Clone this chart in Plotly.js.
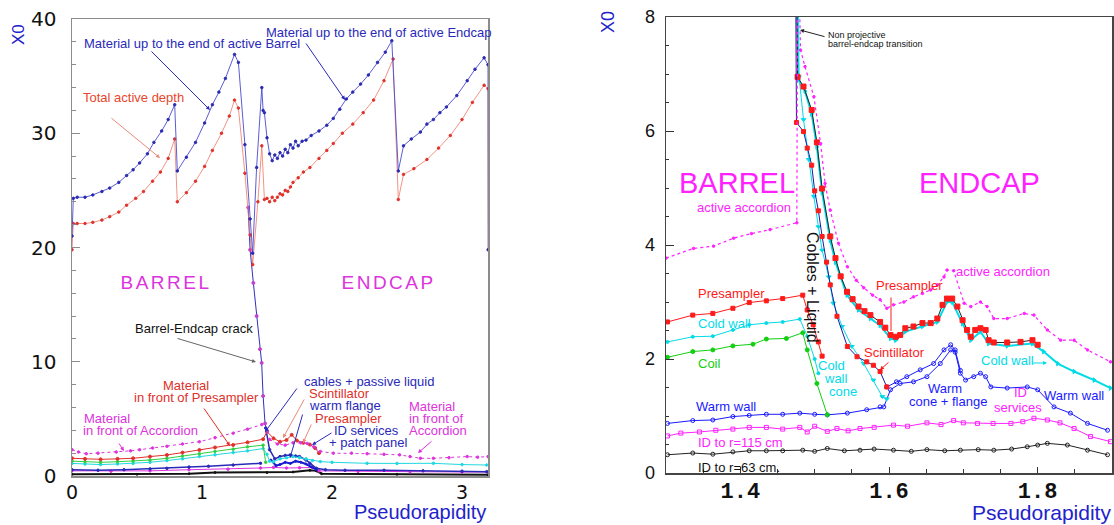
<!DOCTYPE html>
<html><head><meta charset="utf-8">
<script src="https://cdn.plot.ly/plotly-3.0.1.min.js"></script>
<style>body{margin:0;background:#fff}#chart{width:1114px;height:525px}</style>
</head><body><div id="chart"></div>
<script>
// ---------------- LEFT PANEL DATA (eta, X0) ----------------
const etaEndActive = [0,0.01,0.04,0.10,0.16,0.23,0.29,0.36,0.42,0.47,0.52,0.58,0.63,0.69,0.74,0.79,0.81,0.88,0.95,1.02,1.08,1.13,1.18,1.25,1.28,1.33,1.37,1.39,1.42,1.46,1.47,1.48,1.50,1.52,1.54,1.56,1.58,1.60,1.62,1.64,1.66,1.68,1.70,1.72,1.74,1.77,1.80,1.84,1.90,1.96,2.01,2.06,2.11,2.16,2.22,2.28,2.35,2.41,2.46,2.51,2.55,2.61,2.68,2.73,2.78,2.83,2.88,2.96,3.04,3.10,3.17,3.20,3.202];
const x0EndActive = [21.0,24.3,24.4,24.4,24.6,24.9,25.2,25.7,26.3,26.8,27.4,28.2,29.2,30.2,31.2,32.5,26.7,27.9,29.2,30.9,32.5,33.6,34.8,36.9,36.2,29.0,22.5,19.5,27.0,34.0,32.0,31.8,29.6,28.2,27.6,28.1,27.8,28.3,28.0,28.6,28.3,29.0,28.7,29.3,28.9,29.3,29.4,29.8,30.2,30.7,31.3,32.1,33.0,33.6,34.3,35.1,36.2,37.1,38.1,26.7,28.9,29.5,30.1,30.8,31.2,31.8,32.3,33.3,34.6,35.6,36.6,36.0,19.8];

const etaActiveDepth = [0,0.01,0.04,0.10,0.16,0.23,0.29,0.36,0.42,0.49,0.55,0.62,0.68,0.74,0.79,0.81,0.88,0.95,1.02,1.08,1.15,1.21,1.25,1.28,1.33,1.37,1.39,1.43,1.46,1.48,1.50,1.52,1.54,1.56,1.58,1.60,1.62,1.64,1.66,1.68,1.70,1.74,1.78,1.83,1.90,1.96,2.01,2.08,2.16,2.24,2.32,2.40,2.47,2.51,2.55,2.63,2.73,2.82,2.91,3.00,3.08,3.17,3.20,3.202];
const x0ActiveDepth = [19.8,22.1,22.1,22.1,22.2,22.4,22.7,23.1,23.7,24.3,24.9,25.8,26.6,27.8,29.5,24.0,24.8,25.8,27.1,28.5,30.0,31.5,32.9,32.2,26.5,21.1,18.5,24.0,28.9,24.2,24.3,24.0,24.4,24.1,24.4,24.7,24.6,25.0,24.9,25.3,25.7,26.1,26.6,27.0,27.8,28.5,29.1,30.0,30.8,31.8,32.9,34.6,36.5,24.2,26.4,26.9,27.7,28.7,29.8,31.2,32.7,34.2,33.9,19.8];

const etaCrack = [1.355,1.37,1.395,1.42,1.446,1.459,1.47,1.485,1.50];
const x0Crack  = [23.5,19.8,16.9,14.0,11.1,9.9,7.0,4.6,3.9];

const etaFrontAcc = [0,0.05,0.11,0.20,0.34,0.45,0.52,0.62,0.73,0.85,0.98,1.10,1.24,1.35,1.46,null,1.52,1.58,1.64,1.70,1.76,1.81,1.86,1.91,2.01,2.15,2.27,2.40,2.52,2.60,2.68,2.78,2.90,3.04,3.12,3.20];
const x0FrontAcc  = [2.3,2.1,1.95,2.0,2.1,2.2,2.3,2.45,2.6,2.8,3.0,3.35,3.75,4.1,4.5,null,3.2,2.8,2.7,2.9,2.9,2.85,2.55,2.15,2.0,2.0,1.95,1.9,1.85,1.7,1.55,1.55,1.6,1.7,1.65,1.7];

const etaFrontPre = [0,0.10,0.22,0.35,0.47,0.60,0.73,0.85,0.98,1.10,1.24,1.35,1.47,1.50,1.55,1.60,1.65,1.69,1.73,1.78,1.83,1.87,1.90];
const x0FrontPre  = [1.55,1.5,1.46,1.5,1.55,1.7,1.84,2.05,2.28,2.5,2.72,2.95,3.22,3.89,3.3,3.0,3.15,3.6,3.1,2.9,2.75,2.45,2.0];

const etaGreenL = [0,0.10,0.22,0.35,0.47,0.60,0.73,0.85,0.98,1.10,1.24,1.35,1.47,1.49];
const x0GreenL  = [1.3,1.25,1.2,1.25,1.3,1.4,1.55,1.75,1.95,2.15,2.35,2.55,2.7,1.2];

const etaCyanL = [0,0.10,0.22,0.35,0.47,0.60,0.73,0.85,0.98,1.10,1.24,1.35,1.47,1.50,1.52,1.55,1.60,1.65,1.70,1.75,1.80,1.85,1.91,2.00,2.27,2.50,2.78,3.00,3.19];
const x0CyanL  = [1.1,1.05,1.0,1.05,1.1,1.2,1.35,1.5,1.7,1.85,2.05,2.2,2.4,1.9,1.3,1.25,1.5,1.6,1.7,1.6,1.5,1.35,1.26,1.2,1.11,1.1,1.11,1.0,0.96];

const etaCables = [0,0.2,0.4,0.6,0.73,0.9,1.05,1.24,1.45,null,1.49,1.52,1.56,1.60,1.64,1.68,1.72,1.75,1.80,1.83,1.88,1.95,2.1,2.4,2.7,3.0,3.19];
const x0Cables  = [0.55,0.5,0.55,0.62,0.67,0.78,0.85,0.96,1.11,null,4.2,2.3,1.5,1.7,1.8,1.84,1.75,1.70,1.4,1.11,0.67,0.55,0.5,0.5,0.45,0.42,0.38];

const etaFlange = [1.53,1.57,1.60,1.64,1.68,1.72,1.76,1.80,1.84,1.88];
const x0Flange  = [1.4,0.9,1.0,1.2,1.1,1.3,1.2,1.05,0.8,0.55];

const etaIdServ = [0,0.3,0.6,0.9,1.2,1.45,1.55,1.65,1.75,1.85,1.90,2.2,2.6,3.0,3.2];
const x0IdServ  = [0.45,0.42,0.45,0.55,0.6,0.7,0.75,0.7,0.72,0.75,0.45,0.4,0.38,0.35,0.35];

const etaIdL = [0,0.5,0.9,1.1,1.5,1.7,1.83,1.88,1.92,2.5,3.2];
const x0IdL  = [0.15,0.15,0.2,0.3,0.3,0.35,0.5,0.45,0.2,0.15,0.12];

// ---------------- RIGHT PANEL DATA (eta, X0) ----------------
const etaActAcc = [1.30,1.337,1.364,1.391,1.415,1.44,1.476,1.477,1.479,1.481,1.487,1.499,1.508,1.514,1.521,1.532,1.544,1.556,1.566,1.578,1.588,1.597,1.606,1.62,1.633,1.645,1.656,1.665,1.674,1.678,1.687,1.701,1.710,1.723,1.732,1.741,1.759,1.782,1.795,1.813,1.831,1.849,1.867,1.898];
const x0ActAcc  = [3.77,3.94,3.98,4.12,4.2,4.27,4.39,8.6,8.6,7.42,7.13,6.6,5.78,5.08,4.61,4.03,3.62,3.38,3.25,3.12,3.04,2.89,2.95,3.0,3.09,3.15,3.21,3.3,3.44,3.56,3.55,2.98,2.92,3.0,2.92,2.71,2.71,2.80,2.77,2.51,2.33,2.33,2.16,1.95];

const etaPreBar = [1.302,1.336,1.363,1.39,1.412,1.435,1.457,1.484,1.49,1.498,1.505,1.51];
const x0PreBar  = [2.65,2.77,2.80,2.89,2.99,3.02,3.06,3.12,2.86,2.6,2.3,2.05];

const etaColdBar = [1.302,1.336,1.363,1.39,1.412,1.435,1.457,1.48,1.49,1.50,1.505];
const x0ColdBar  = [2.30,2.39,2.40,2.51,2.60,2.63,2.65,2.70,2.4,2.0,1.75];

const etaCoil = [1.302,1.336,1.363,1.39,1.417,1.435,1.462,1.484,1.49,1.503,1.517];
const x0Coil  = [2.03,2.13,2.16,2.23,2.26,2.35,2.36,2.46,2.16,1.57,1.02];

const etaWarm = [1.302,1.336,1.363,1.39,1.412,1.435,1.457,1.48,1.50,1.517,1.544,1.57,1.588,1.593,1.602,1.615,1.633,1.651,1.669,1.683,1.689,1.696,1.703,1.714,1.723,1.73,1.737,1.759,1.786,1.80,1.822,1.844,1.867,1.894];
const x0Warm  = [0.87,0.92,0.93,0.99,1.01,1.03,1.03,1.05,1.03,1.02,1.05,1.11,1.16,1.16,1.46,1.57,1.60,1.69,1.92,2.16,2.12,1.75,1.63,1.69,1.75,1.69,1.51,1.49,1.51,1.46,1.16,1.05,0.87,0.75];

const etaScint = [1.4745,1.4755,1.485,1.49,1.496,1.50,1.505,1.51,1.516,1.521,1.53,1.544,1.557,1.57,1.579,1.588,1.597];
const x0Scint  = [8.6,6.15,5.99,5.7,5.4,4.95,4.6,4.15,3.7,3.3,2.75,2.22,2.04,1.95,1.89,1.78,1.51];

const etaConeFl = [1.597,1.61,1.624,1.642,1.66,1.674,1.683,1.689,1.696];
const x0ConeFl  = [1.51,1.6,1.69,1.81,1.92,2.16,2.25,2.16,1.80];

const etaColdCone = [1.478,1.479,1.485,1.492,1.499,1.505,1.51,1.519,1.525,1.537,1.55,1.566,1.579,1.591,1.597];
const x0ColdCone  = [8.6,6.95,6.2,5.5,4.85,4.32,3.91,3.44,2.98,2.57,2.22,1.92,1.63,1.34,1.3];

const etaPreEnd = [1.476,1.477,1.485,1.496,1.503,1.51,1.521,1.528,1.535,1.5435,1.551,1.559,1.567,1.575,1.588,1.595,1.602,1.609,1.615,1.622,1.633,1.645,1.656,1.665,1.672,1.678,1.685,1.692,1.699,1.705,1.71,1.716,1.723,1.73,1.734,1.741,1.759,1.777,1.793,1.80];
const x0PreEnd  = [8.6,6.95,6.78,6.37,5.8,4.99,4.15,3.77,3.45,3.18,3.05,2.92,2.84,2.77,2.65,2.55,2.42,2.39,2.42,2.54,2.57,2.63,2.63,2.71,2.95,3.06,3.06,2.92,2.68,2.51,2.39,2.51,2.54,2.51,2.33,2.29,2.29,2.30,2.33,2.25];

const etaColdEnd = [1.476,1.478,1.487,1.496,1.503,1.51,1.521,1.528,1.5435,1.559,1.575,1.588,1.602,1.609,1.622,1.645,1.665,1.678,1.685,1.699,1.71,1.723,1.734,1.759,1.793,1.808,1.827,1.849,1.876,1.898];
const x0ColdEnd  = [8.6,6.9,6.7,6.3,5.72,4.92,4.08,3.7,3.12,2.86,2.71,2.59,2.36,2.33,2.48,2.57,2.65,3.0,3.0,2.62,2.33,2.48,2.27,2.23,2.27,2.13,1.92,1.78,1.63,1.49];

const etaId115 = [1.302,1.32,1.345,1.367,1.39,1.412,1.435,1.457,1.48,1.49,1.50,1.517,1.53,1.545,1.561,1.58,1.606,1.625,1.651,1.67,1.687,1.70,1.719,1.74,1.764,1.78,1.795,1.813,1.83,1.849,1.871,1.898];
const x0Id115  = [0.65,0.70,0.72,0.75,0.77,0.80,0.80,0.77,0.80,0.72,0.82,0.73,0.78,0.74,0.78,0.80,0.84,0.82,0.88,0.85,0.92,0.88,0.87,0.87,0.87,0.90,0.96,0.93,0.88,0.78,0.64,0.55];

const etaId63 = [1.302,1.336,1.363,1.39,1.412,1.435,1.457,1.484,1.50,1.517,1.54,1.561,1.58,1.606,1.63,1.651,1.675,1.696,1.72,1.741,1.765,1.786,1.80,1.813,1.84,1.867,1.894];
const x0Id63  = [0.32,0.35,0.33,0.37,0.39,0.39,0.39,0.40,0.38,0.43,0.39,0.40,0.42,0.40,0.38,0.41,0.39,0.40,0.41,0.40,0.42,0.46,0.49,0.52,0.49,0.40,0.32];

// ---------------- STYLE ----------------
const W = 1114, H = 525;
const FN = 'Liberation Sans, Arial, sans-serif';
const FS = 'Liberation Sans, Arial, sans-serif';
const LBL = '#2a2ab8', LRD = '#e0302a', LMG = '#dd33dd', LSAL = '#e88a78';
const RBL = '#1a1aff', RRD = '#ff1a1a', RMG = '#ff22ff', RCY = '#00dbe8', RGR = '#10d010';

function tr(x, y, color, ax, opt) {
  opt = opt || {};
  return {
    x: x, y: y, type: 'scatter', mode: opt.mode || 'lines+markers',
    xaxis: ax === 2 ? 'x2' : 'x', yaxis: ax === 2 ? 'y2' : 'y',
    line: {color: opt.lineColor || color, width: opt.width || 1, dash: opt.dash || 'solid'},
    marker: {color: opt.mcolor || color, size: opt.msize || 3, symbol: opt.symbol || 'circle',
             line: {color: opt.mcolor || color, width: 1}},
    hoverinfo: 'skip'
  };
}

const traces = [
  // left panel
  tr(etaIdL, x0IdL, '#111', 1, {width: 2, msize: 2}),
  tr(etaIdServ, x0IdServ, LMG, 1, {msize: 2.5}),
  tr(etaCables, x0Cables, LBL, 1, {msize: 2.5, width: 1.5}),
  tr(etaFlange, x0Flange, '#1a1ad0', 1, {msize: 2, width: 2}),
  tr(etaCyanL, x0CyanL, '#20d8e0', 1, {msize: 2.5}),
  tr(etaGreenL, x0GreenL, '#30d040', 1, {msize: 2.5}),
  tr(etaFrontPre, x0FrontPre, LRD, 1, {msize: 3}),
  tr(etaFrontAcc, x0FrontAcc, LMG, 1, {msize: 2.5, dash: 'dot'}),
  tr(etaCrack, x0Crack, '#3030c0', 1, {msize: 3, mcolor: '#c040d0'}),
  tr(etaActiveDepth, x0ActiveDepth, LRD, 1, {msize: 2.5, lineColor: '#ee7766', width: 0.8}),
  tr(etaEndActive, x0EndActive, '#2a2ab0', 1, {msize: 2.5, lineColor: '#4a4ad0', width: 0.9}),
  // right panel
  tr(etaId63, x0Id63, '#222', 2, {symbol: 'circle-open', msize: 4}),
  tr(etaId115, x0Id115, RMG, 2, {symbol: 'square-open', msize: 4}),
  tr(etaWarm, x0Warm, RBL, 2, {symbol: 'circle-open', msize: 4}),
  tr(etaCoil, x0Coil, RGR, 2, {msize: 4}),
  tr(etaColdBar, x0ColdBar, RCY, 2, {msize: 3}),
  tr(etaPreBar, x0PreBar, RRD, 2, {symbol: 'square', msize: 4}),
  tr(etaColdCone, x0ColdCone, RCY, 2, {symbol: 'triangle-down', msize: 4}),
  tr(etaColdEnd, x0ColdEnd, RCY, 2, {symbol: 'triangle-right', msize: 4, width: 2}),
  tr(etaPreEnd, x0PreEnd, RRD, 2, {symbol: 'square', msize: 5, lineColor: '#222'}),
  tr(etaConeFl, x0ConeFl, RBL, 2, {symbol: 'circle-open', msize: 4}),
  tr(etaScint, x0Scint, RRD, 2, {symbol: 'square', msize: 4, lineColor: '#1a1aa0'}),
  tr(etaActAcc, x0ActAcc, RMG, 2, {msize: 2.5, dash: 'dot', width: 1.2})
];

function T(text, x, y, color, size, o) {
  o = o || {};
  return {text: text, x: x / W, y: 1 - y / H, xref: 'paper', yref: 'paper',
    xanchor: o.xa || 'left', yanchor: 'middle', showarrow: false,
    textangle: o.angle || 0, borderpad: 0,
    font: {family: o.family || FN, size: size || 13, color: color}};
}
function A(x1, y1, x2, y2, color, head) {
  return {text: '', x: x2 / W, y: 1 - y2 / H, xref: 'paper', yref: 'paper',
    ax: x1 - x2, ay: y1 - y2, axref: 'pixel', ayref: 'pixel', showarrow: true,
    arrowhead: head === undefined ? 2 : head, arrowsize: 0.8, arrowwidth: 1, arrowcolor: color, standoff: 0, startstandoff: 0};
}

const annotations = [
  // left panel
  T('Material up to the end of active Barrel', 83, 43, LBL),
  T('Material up to the end of active Endcap', 265, 33, LBL),
  T('Total active depth', 82, 97, '#e8462c'),
  T('BARREL', 166, 282, LMG, 19, {xa: 'center', family: FS}),
  T('ENDCAP', 389, 282, LMG, 19, {xa: 'center', family: FS}),
  T('Barrel-Endcap crack', 134, 328, '#111'),
  T('Material', 162, 385, LRD),
  T('in front of Presampler', 133, 397, LRD),
  T('Material', 83, 418, LMG),
  T('in front of Accordion', 82, 430, LMG),
  T('cables + passive liquid', 303, 381, LBL),
  T('Scintillator', 308, 393, LRD),
  T('warm flange', 308, 405, LBL),
  T('Presampler', 314, 418, LRD),
  T('ID services', 333, 430, LBL),
  T('+ patch panel', 328, 442, LBL),
  T('Material', 408, 406, LMG),
  T('in front of', 408, 418, LMG),
  T('Accordion', 408, 430, LMG),
  T('X0', 19, 35, '#2222cc', 17, {xa: 'center', angle: -90, family: FS}),
  T('Pseudorapidity', 487, 512, '#2222cc', 20, {xa: 'right', family: FS}),
  A(150, 50, 210, 110, LBL),
  A(305, 42, 345, 100, LBL),
  A(110, 117, 160, 158, LSAL),
  A(176, 338, 256, 362, '#666'),
  A(203, 407, 230, 446, LRD),
  A(118, 442, 124, 451, LMG),
  A(298, 387, 265, 432, LBL),
  A(305, 398, 283, 438, LSAL),
  A(303, 413, 290, 458, LBL),
  A(312, 423, 303, 443, LSAL),
  A(333, 432, 312, 445, LBL),
  A(433, 440, 418, 453, LMG),
  // right panel
  T('BARREL', 678, 183, RMG, 29, {family: FS}),
  T('ENDCAP', 918, 183, RMG, 29, {family: FS}),
  T('active accordion', 696, 207, RMG),
  T('Presampler', 697, 293, RRD),
  T('Cold wall', 697, 323, RCY),
  T('Coil', 697, 363, RGR),
  T('Warm wall', 695, 406, RBL),
  T('ID to r=115 cm', 697, 442, RMG),
  T('ID to r=63 cm.', 697, 467, '#111'),
  T('Cobles + Liquid', 813, 287, '#111', 16, {xa: 'center', angle: 90, family: FS}),
  T('Cold', 817, 365, RCY),
  T('wall', 823, 378, RCY),
  T('cone', 828, 391, RCY),
  T('Presampler', 875, 285, RRD),
  T('active accordion', 955, 271, RMG),
  T('Scintillator', 863, 352, RRD),
  T('Cold wall', 980, 360, RCY),
  T('Warm', 927, 388, RBL),
  T('cone + flange', 908, 401, RBL),
  T('ID', 1013, 392, RMG),
  T('services', 993, 407, RMG),
  T('Warm wall', 1043, 395, RBL),
  T('Non projective', 827, 35, '#111', 9),
  T('barrel-endcap transition', 827, 44, '#111', 9),
  T('X0', 608, 22, '#2222cc', 18, {xa: 'center', angle: -90, family: FS}),
  T('Pseudorapidity', 1112, 512, '#2222cc', 21, {xa: 'right', family: FS}),
  A(826, 37, 800, 30, '#222'),
  A(891, 296, 891, 331, RRD, 0),
  A(890, 361, 880, 370, RRD),
  A(1031, 363, 1047, 363, RCY)
];

const layout = {
  width: W, height: H, margin: {l: 0, r: 0, t: 0, b: 0},
  paper_bgcolor: '#fff', plot_bgcolor: '#fff', showlegend: false,
  xaxis: {domain: [72 / W, 488 / W], range: [0, 3.2], dtick: 1, tick0: 0, ticks: '',
    showline: true, mirror: true, linecolor: '#8c8c8c', linewidth: 1.5, showgrid: false, zeroline: false,
    tickfont: {family: 'DejaVu Sans, sans-serif', size: 19, color: '#111'}, ticklabelstandoff: -1, anchor: 'y'},
  yaxis: {domain: [1 - 476 / H, 1 - 19 / H], range: [0, 40], dtick: 10, tick0: 0, ticks: 'inside', ticklen: 8,
    tickcolor: '#8c8c8c', minor: {dtick: 2, ticklen: 4, ticks: 'inside', tickcolor: '#8c8c8c'},
    showline: true, mirror: true, linecolor: '#8c8c8c', linewidth: 1.5, showgrid: false, zeroline: false,
    tickfont: {family: 'DejaVu Sans, sans-serif', size: 20, color: '#111'}, ticklabelstandoff: 10, anchor: 'x'},
  xaxis2: {domain: [666 / W, 1112 / W], range: [1.3, 1.9], dtick: 0.2, tick0: 1.4, ticks: 'inside', ticklen: 6,
    tickcolor: '#333', minor: {dtick: 0.05, tick0: 1.3, ticklen: 4, ticks: 'inside', tickcolor: '#333'},
    showline: true, mirror: true, linecolor: '#444', linewidth: 1.5, showgrid: false, zeroline: false,
    tickformat: '.1f',
    tickfont: {family: 'Liberation Mono, monospace', size: 22, color: '#111', weight: 'bold'}, ticklabelstandoff: -3, anchor: 'y2'},
  yaxis2: {domain: [1 - 473 / H, 1 - 17 / H], range: [0, 8], dtick: 2, tick0: 0, ticks: 'inside', ticklen: 8,
    tickcolor: '#333', minor: {dtick: 0.5, ticklen: 3, ticks: 'inside', tickcolor: '#333'},
    showline: true, mirror: true, linecolor: '#444', linewidth: 1.5, showgrid: false, zeroline: false,
    tickfont: {family: FS, size: 18, color: '#111'}, ticklabelstandoff: 6, anchor: 'x2'},
  annotations: annotations
};

Plotly.newPlot('chart', traces, layout, {staticPlot: true}).then(function () {
  document.querySelectorAll('.annotation-text').forEach(function (t) {
    if ((t.textContent === 'BARREL' || t.textContent === 'ENDCAP') && parseFloat(t.style.fontSize) < 25) {
      t.style.letterSpacing = '2.5px';
    }
  });
});
</script>
</body></html>
